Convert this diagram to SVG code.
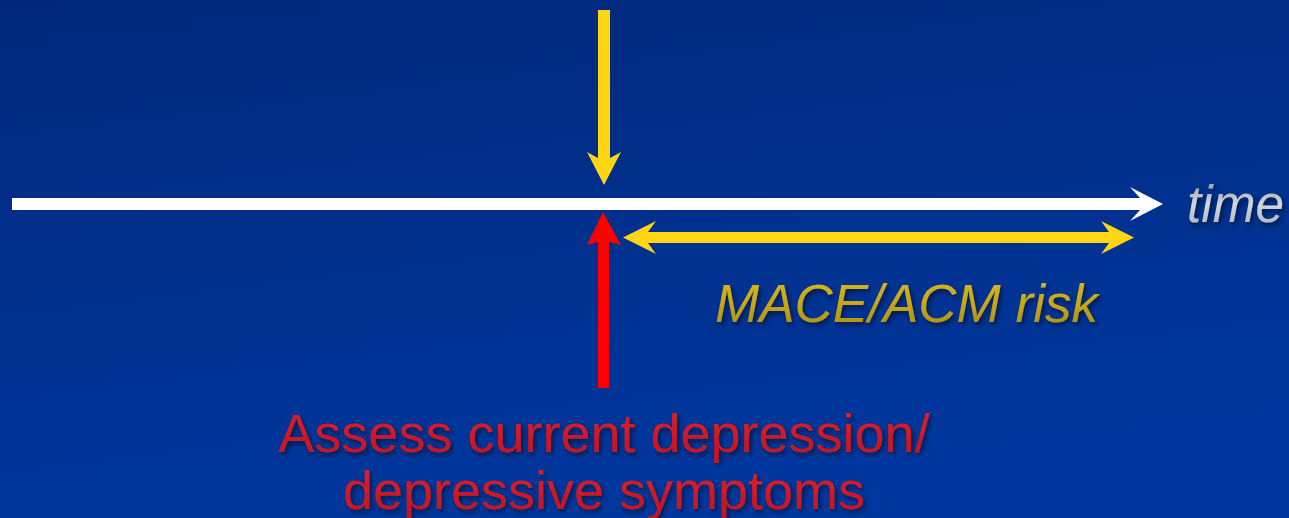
<svg xmlns="http://www.w3.org/2000/svg" width="1289" height="518" viewBox="0 0 1289 518">
  <defs>
    <linearGradient id="bg" x1="0" y1="0" x2="0.3" y2="1">
      <stop offset="0" stop-color="#00287a"/>
      <stop offset="1" stop-color="#00379e"/>
    </linearGradient>
    <linearGradient id="goldText" x1="0" y1="0" x2="0" y2="1">
      <stop offset="0" stop-color="#d8b820"/>
      <stop offset="0.5" stop-color="#c9a716"/>
      <stop offset="1" stop-color="#a88a10"/>
    </linearGradient>
    <linearGradient id="greyText" x1="0" y1="0" x2="0" y2="1">
      <stop offset="0" stop-color="#8e929c"/>
      <stop offset="0.5" stop-color="#d4d6dc"/>
      <stop offset="1" stop-color="#a6aab2"/>
    </linearGradient>
    <linearGradient id="redText" x1="0" y1="0" x2="0" y2="1">
      <stop offset="0" stop-color="#e0202c"/>
      <stop offset="1" stop-color="#c0141f"/>
    </linearGradient>
    <filter id="shadow" x="-10%" y="-20%" width="120%" height="150%">
      <feDropShadow dx="2" dy="3" stdDeviation="2.5" flood-color="#000" flood-opacity="0.55"/>
    </filter>
  </defs>
  <style>
    .label { font-family: "Liberation Sans", Arial, sans-serif; }
    .yellow { fill: #ffd514; }
    .red { fill: #ff0000; }
    .white { fill: #ffffff; }
  </style>

  <rect x="0" y="0" width="1289" height="518" fill="url(#bg)"/>

  <g id="connectors">
    <path id="time-axis" class="white" d="M12,198 L1140,198 L1130,187 L1163,204 L1130,221 L1140,210 L12,210 Z"/>
    <path id="event-arrow" class="yellow" d="M598,10 L610,10 L610,158 L621,152 L604,185 L587,152 L598,158 Z"/>
    <path id="assess-arrow" class="red" d="M598,388 L609,388 L609,242 L621,245 L603,212 L587,245 L598,242 Z"/>
    <path id="risk-arrow" class="yellow" d="M623,237.5 L656,221 L648,232 L1109,232 L1101,221 L1134,237.5 L1101,254 L1109,243 L648,243 L656,254 Z"/>
  </g>

  <g id="node-time">
    <text class="label" x="1187" y="222" font-size="51" font-style="italic" fill="url(#greyText)" filter="url(#shadow)" textLength="97" lengthAdjust="spacingAndGlyphs">time</text>
  </g>

  <g id="node-risk">
    <text class="label" x="715" y="322" font-size="53" font-style="italic" fill="url(#goldText)" filter="url(#shadow)" textLength="383" lengthAdjust="spacingAndGlyphs">MACE/ACM risk</text>
  </g>

  <g id="node-assess">
    <text class="label" x="604" y="452" font-size="54" text-anchor="middle" fill="url(#redText)" filter="url(#shadow)">Assess current depression/</text>
    <text class="label" x="604" y="509" font-size="54" text-anchor="middle" fill="url(#redText)" filter="url(#shadow)">depressive symptoms</text>
  </g>
</svg>
